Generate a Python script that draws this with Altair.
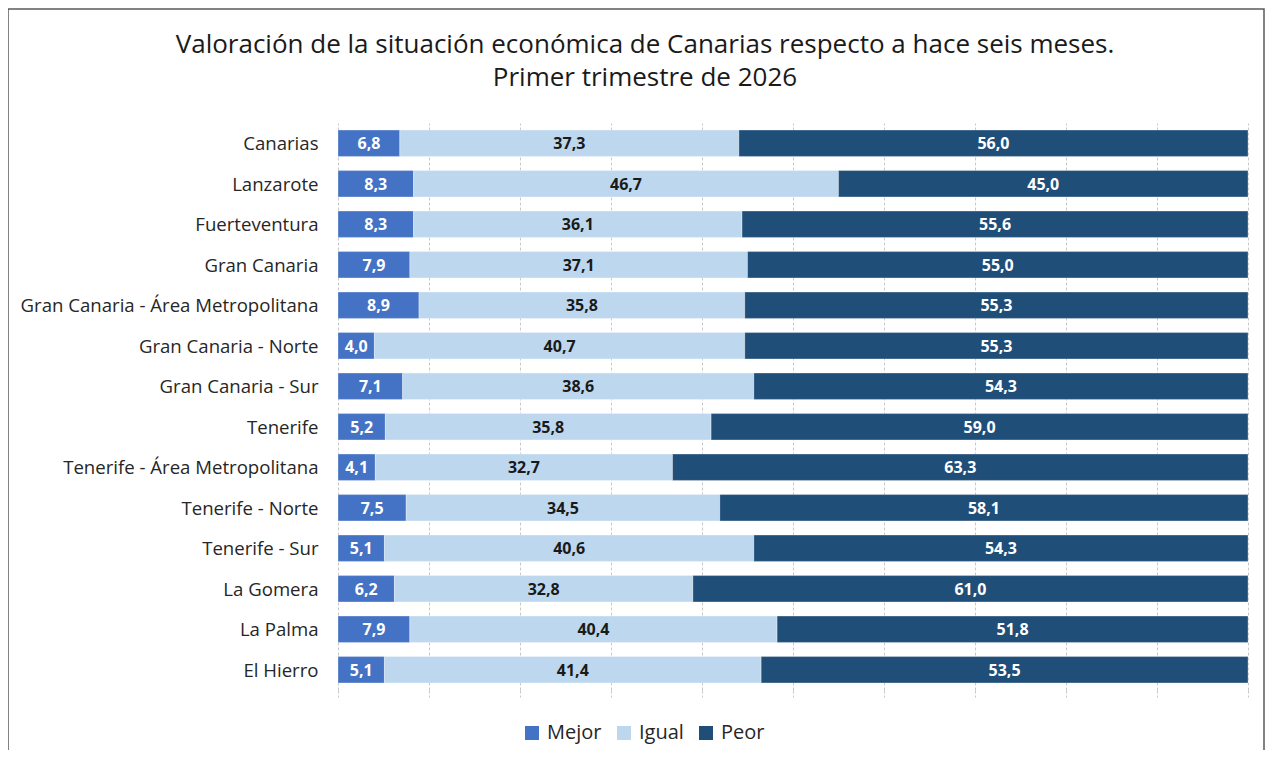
import altair as alt
import pandas as pd

regions = ["Canarias", "Lanzarote", "Fuerteventura", "Gran Canaria",
           "Gran Canaria - Área Metropolitana", "Gran Canaria - Norte",
           "Gran Canaria - Sur", "Tenerife", "Tenerife - Área Metropolitana",
           "Tenerife - Norte", "Tenerife - Sur", "La Gomera", "La Palma", "El Hierro"]
mejor = [6.8, 8.3, 8.3, 7.9, 8.9, 4.0, 7.1, 5.2, 4.1, 7.5, 5.1, 6.2, 7.9, 5.1]
igual = [37.3, 46.7, 36.1, 37.1, 35.8, 40.7, 38.6, 35.8, 32.7, 34.5, 40.6, 32.8, 40.4, 41.4]
peor = [56.0, 45.0, 55.6, 55.0, 55.3, 55.3, 54.3, 59.0, 63.3, 58.1, 54.3, 61.0, 51.8, 53.5]
categories = ["Mejor", "Igual", "Peor"]
colors = ["#4472C4", "#BDD7EE", "#1F4E79"]

rows = []
for i, r in enumerate(regions):
    for k, (c, v) in enumerate(zip(categories, [mejor[i], igual[i], peor[i]])):
        rows.append({"region": r, "category": c, "value": v, "order": k})
df = pd.DataFrame(rows)

FONT = "Open Sans"

base = alt.Chart(df).transform_stack(
    stack="value", groupby=["region"], as_=["x0", "x1"],
    sort=[alt.SortField("order")], offset="normalize"
).transform_calculate(
    mid="(datum.x0 + datum.x1) / 2",
    label="replace(format(datum.value, '.1f'), '.', ',')"
)

yenc = alt.Y("region:N", sort=regions, title=None,
             scale=alt.Scale(paddingInner=0.35, paddingOuter=0.175),
             axis=alt.Axis(labelFontSize=18.6, labelColor="#262626", labelFont=FONT,
                           ticks=False, domain=False, labelPadding=20, labelLimit=400,
                           labelOffset=1))

bars = base.mark_bar(stroke="white", strokeWidth=0.5, strokeOpacity=0.6).encode(
    x=alt.X("x0:Q", title=None, scale=alt.Scale(domain=[0, 1]),
            axis=alt.Axis(values=[i / 10 for i in range(11)], labels=False, domain=False,
                          grid=True, gridDash=[3, 2], gridColor="#c8c8c8",
                          tickColor="#c8c8c8", tickDash=[3, 2], tickSize=7)),
    x2="x1:Q",
    y=yenc,
    color=alt.Color("category:N", title=None,
                    scale=alt.Scale(domain=categories, range=colors),
                    sort=categories,
                    legend=alt.Legend(orient="none", legendX=184, legendY=600,
                                      direction="horizontal", symbolType="square",
                                      symbolSize=196, symbolStrokeWidth=0,
                                      labelFontSize=20, labelFont=FONT, labelColor="#262626",
                                      columnPadding=12, labelOffset=5)),
)

texts = base.mark_text(fontSize=16, fontWeight="bold", font=FONT, dy=1).encode(
    x="mid:Q",
    y=alt.Y("region:N", sort=regions),
    text="label:N",
    color=alt.when(alt.datum.category == "Igual").then(alt.value("#1a1a1a")).otherwise(alt.value("white")),
)

frame = alt.Chart(pd.DataFrame({"a": [0]})).mark_rect(
    fill=None, stroke="#595959", strokeWidth=1.5
).encode(x=alt.value(-330), x2=alt.value(926), y=alt.value(-114), y2=alt.value(700))

chart = alt.layer(frame, bars, texts).properties(
    width=910, height=567,
    autosize=alt.AutoSizeParams(type="none"),
    padding={"left": 330, "top": 115, "right": 17, "bottom": 60},
    title=alt.TitleParams(
        ["Valoración de la situación económica de Canarias respecto a hace seis meses.",
         "Primer trimestre de 2026"],
        fontSize=26, fontWeight="normal", font=FONT, color="#1a1a1a",
        anchor="middle", dx=-148, offset=-83, lineHeight=33),
).configure_view(stroke=None)

chart.save("out.html", embed_options={"renderer": "svg", "actions": False})
